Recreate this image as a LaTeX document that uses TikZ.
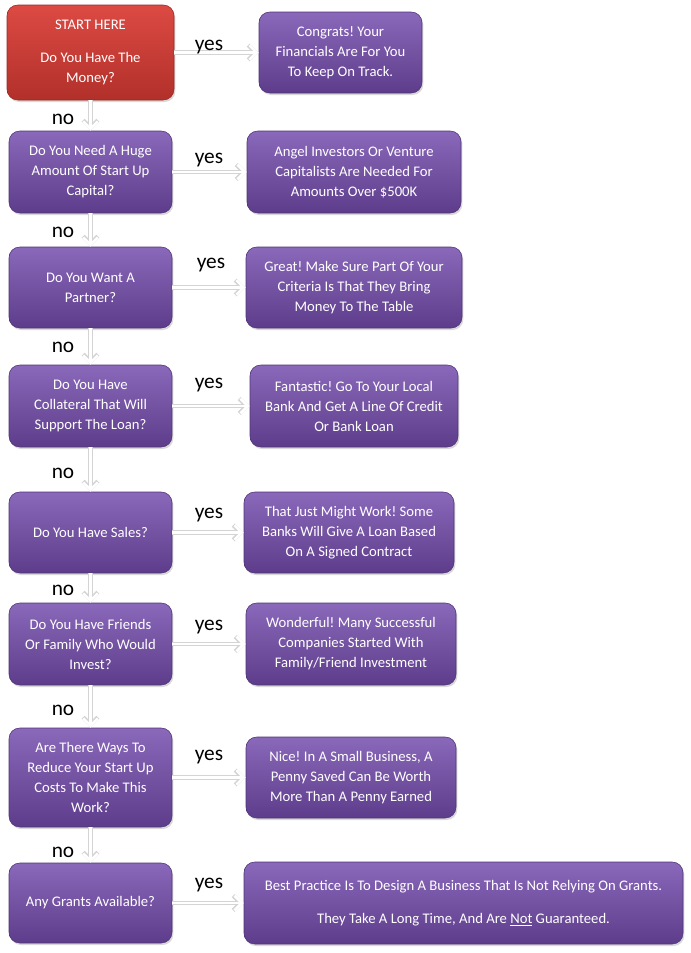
\documentclass[tikz,border=0pt]{standalone}
\usepackage{fontspec}
\setmainfont{Carlito}
\usetikzlibrary{arrows.meta, shadows}
\definecolor{purpletop}{HTML}{8A68BA}
\definecolor{purplebot}{HTML}{5D3D8B}
\definecolor{redtop}{HTML}{DC4A43}
\definecolor{redbot}{HTML}{B2302A}
\frenchspacing

\begin{document}
\begin{tikzpicture}[x=0.75pt, y=-0.75pt,
      qbox/.style={rounded corners=8pt, top color=purpletop, bottom color=purplebot,
                   draw=purplebot!85!black, line width=0.4pt, text=white,
                   font=\fontsize{11}{15}\selectfont, align=center, inner sep=2pt,
                   minimum width=122.25pt, minimum height=61.5pt,
                   drop shadow={shadow xshift=1pt, shadow yshift=-1.5pt, opacity=0.3}},
      startbox/.style={qbox, top color=redtop, bottom color=redbot, draw=redbot!85!black},
      arr/.style={draw=black!17, line width=3.3pt, -{Straight Barb[length=5.5pt, width=11pt]},
                  postaction={draw=white, line width=2pt,
                              -{Straight Barb[length=5.5pt, width=11pt]}}},
      lbl/.style={font=\fontsize{16}{18}\selectfont, anchor=base}
    ]
      \useasboundingbox (0,0) rectangle (690,953);

      % questions
      \node[startbox, minimum width=125.25pt, minimum height=71.25pt] (q1) at (90.5,52.5)
        {START HERE\\[10pt]Do You Have The\\Money?};
      \node[qbox] (q2) at (90.5,172) {Do You Need A Huge\\Amount Of Start Up\\Capital?};
      \node[qbox, minimum height=60.75pt] (q3) at (90.5,287.5) {Do You Want A\\Partner?};
      \node[qbox] (q4) at (90.5,406) {Do You Have\\Collateral That Will\\Support The Loan?};
      \node[qbox, minimum height=60.75pt] (q5) at (90.5,532.5) {Do You Have Sales?};
      \node[qbox] (q6) at (90.5,644) {Do You Have Friends\\Or Family Who Would\\Invest?};
      \node[qbox, minimum height=74.25pt] (q7) at (90.5,777.5)
        {Are There Ways To\\Reduce Your Start Up\\Costs To Make This\\Work?};
      \node[qbox, minimum height=60pt] (q8) at (90.5,903) {Any Grants Available?};

      % answers
      \node[qbox, minimum height=60.75pt] (a1) at (340.5,52.5)
        {Congrats! Your\\Financials Are For You\\To Keep On Track.};
      \node[qbox, minimum width=160.5pt] (a2) at (354,172)
        {Angel Investors Or Venture\\Capitalists Are Needed For\\Amounts Over \$500K};
      \node[qbox, minimum width=162pt, minimum height=60.75pt] (a3) at (354,287.5)
        {Great! Make Sure Part Of Your\\Criteria Is That They Bring\\Money To The Table};
      \node[qbox, minimum width=156pt] (a4) at (354,406)
        {Fantastic! Go To Your Local\\Bank And Get A Line Of Credit\\Or Bank Loan};
      \node[qbox, minimum width=157.5pt, minimum height=60.75pt] (a5) at (349,532.5)
        {That Just Might Work! Some\\Banks Will Give A Loan Based\\On A Signed Contract};
      \node[qbox, minimum width=157.5pt] (a6) at (351,644)
        {Wonderful! Many Successful\\Companies Started With\\Family/Friend Investment};
      \node[qbox, minimum width=157.5pt, minimum height=60.75pt] (a7) at (351,777.5)
        {Nice! In A Small Business, A\\Penny Saved Can Be Worth\\More Than A Penny Earned};
      \node[qbox, minimum width=329.25pt] (a8) at (463.5,903)
        {Best Practice Is To Design A Business That Is Not Relying On Grants.\\[10pt]
         They Take A Long Time, And Are \underline{Not} Guaranteed.};

      % yes arrows
      \draw[arr] (q1) -- (a1);
      \draw[arr] (q2) -- (a2);
      \draw[arr] (q3) -- (a3);
      \draw[arr] (q4) -- (a4);
      \draw[arr] (q5) -- (a5);
      \draw[arr] (q6) -- (a6);
      \draw[arr] (q7) -- (a7);
      \draw[arr] (q8) -- (a8);

      % no arrows
      \draw[arr] (q1) -- (q2);
      \draw[arr] (q2) -- (q3);
      \draw[arr] (q3) -- (q4);
      \draw[arr] (q4) -- (q5);
      \draw[arr] (q5) -- (q6);
      \draw[arr] (q6) -- (q7);
      \draw[arr] (q7) -- (q8);

      \node[lbl] (y1) at (209,50) {yes};
      \node[lbl] (y2) at (209,163) {yes};
      \node[lbl] (y3) at (211,268) {yes};
      \node[lbl] (y4) at (209,388) {yes};
      \node[lbl] (y5) at (209,518) {yes};
      \node[lbl] (y6) at (209,630) {yes};
      \node[lbl] (y7) at (209,760) {yes};
      \node[lbl] (y8) at (209,888) {yes};

      \node[lbl] (n1) at (63,124) {no};
      \node[lbl] (n2) at (63,237) {no};
      \node[lbl] (n3) at (63,352) {no};
      \node[lbl] (n4) at (63,478) {no};
      \node[lbl] (n5) at (63,595) {no};
      \node[lbl] (n6) at (63,715) {no};
      \node[lbl] (n7) at (63,857) {no};
    \end{tikzpicture}
\end{document}
